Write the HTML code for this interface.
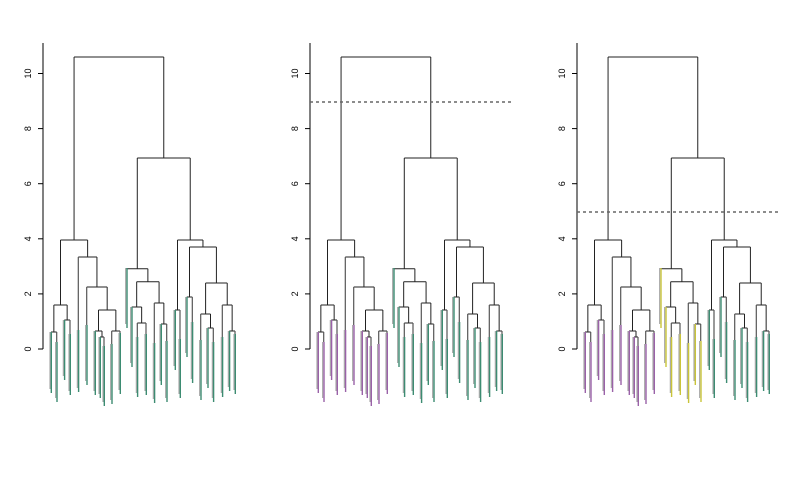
<!DOCTYPE html>
<html><head><meta charset="utf-8"><style>
html,body{margin:0;padding:0;background:#fff;}
svg{display:block;font-family:"Liberation Sans",sans-serif;}
</style></head><body>
<svg id="s" width="801" height="481" viewBox="0 0 801 481" xmlns="http://www.w3.org/2000/svg"></svg>
<script>
const lv={
1:[51,332,393],2:[56.7,342,402],3:[64.3,320,380],4:[70,334,395],5:[78.3,330,392],
6:[86.7,325,385],7:[95,331,395],8:[100,337,398],9:[104,346,406],10:[111.7,344,404],
11:[120,333,394],12:[126.7,268,328],13:[131.7,307,367],14:[137.3,337,397],15:[146,334,395],
16:[154.3,343,403],17:[161,324,385],18:[166.7,341,402],19:[175,310,370],20:[180,339,398],
21:[186.7,297,357],22:[192.3,322,383],23:[200.7,340,400],24:[207.7,328,388],25:[213.3,342,402],
26:[222.3,337,397],27:[229.3,331,391],28:[235,334,394]};
const N=(y,...c)=>({y,c});
const L=N(240,
  N(305, N(332,1,2), N(320,3,4)),
  N(257, 5, N(287, 6, N(310, N(331,7,N(337,8,9)), N(331,10,11))))
);
const R=N(158,
  N(268.7, 12, N(281.7, N(307,13,N(323,14,15)), N(303,16,N(324,17,18)))),
  N(240, N(310,19,20), N(247, N(297,21,22), N(283, N(314,23,N(328,24,25)), N(305,26,N(331,27,28)))))
);
function nx(n){if(typeof n==='number')return lv[n][0];n.x=(nx(n.c[0])+nx(n.c[n.c.length-1]))/2;return n.x;}
nx(L);nx(R);
let out='';
const G='#3d8c72',P='#9a62a8',Y='#c9c43a';
function line(x1,y1,x2,y2,c,w,extra){out+=`<line x1="${x1}" y1="${y1}" x2="${x2}" y2="${y2}" stroke="${c}" stroke-width="${w||1}" ${extra||''}/>`;}
function draw(n,dx,col){
  const xs=n.c.map(c=>typeof c==='number'?lv[c][0]:c.x);
  line(xs[0]+dx,n.y,xs[xs.length-1]+dx,n.y,'#222',1);
  n.c.forEach(c=>{
    if(typeof c==='number'){
      const [x,t,e]=lv[c];const cl=col(c);
      line(x+dx,n.y,x+dx,t,'#555',1.2);
      line(x+dx-1,t,x+dx-1,e-4,'#999',1);
      line(x+dx+0.3,t,x+dx+0.3,e,cl,1.4);
    } else {
      line(c.x+dx,n.y,c.x+dx,c.y,'#222',1);
      draw(c,dx,col);
    }
  });
}
function panel(dx,col,cut){
  line(43+dx,43,43+dx,349,'#000',1);
  for(let i=0;i<=10;i+=2){
    const y=349-i*27.55;
    line(38+dx,y,43+dx,y,'#000',1);
    out+=`<text x="${31+dx}" y="${y}" font-size="9" text-anchor="middle" transform="rotate(-90 ${31+dx} ${y})">${i}</text>`;
  }
  line(L.x+dx,57,R.x+dx,57,'#222',1);
  line(L.x+dx,57,L.x+dx,L.y,'#222',1);
  line(R.x+dx,57,R.x+dx,R.y,'#222',1);
  draw(L,dx,col);draw(R,dx,col);
  if(cut)line(dx+43,cut,dx+244,cut,'#666',1.6,'stroke-dasharray="3,3"');
}
panel(0,()=>G,0);
panel(267,c=>c<=11?P:G,102);
panel(534,c=>c<=11?P:(c<=18?Y:G),212);
document.getElementById('s').innerHTML=out;
</script>
</body></html>
